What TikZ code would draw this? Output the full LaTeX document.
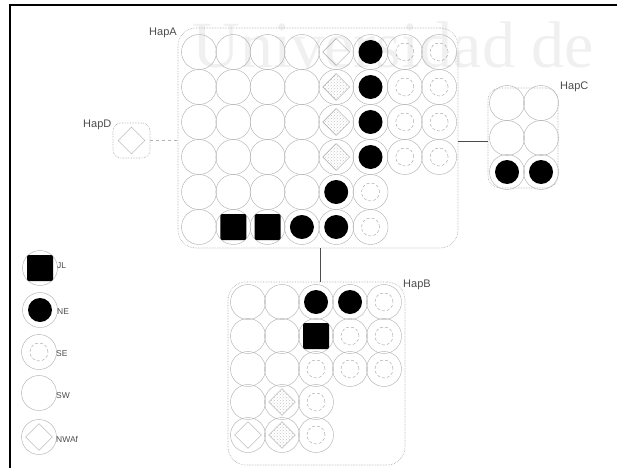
\documentclass[tikz,border=0pt]{standalone}
\usepackage{fontspec}
\setmainfont{Liberation Sans}
\newfontfamily\wmfont{Liberation Serif}
\usetikzlibrary{shapes.geometric,patterns}
\tikzset{
  outer/.style={circle, draw=gray!60, line width=0.45pt, minimum size=35pt, inner sep=0pt},
  blk/.style={circle, fill=black, minimum size=24pt, inner sep=0pt},
  sedot/.style={circle, draw=gray!70, densely dashed, line width=0.45pt, minimum size=18pt, inner sep=0pt},
  dia/.style={diamond, draw=gray!70, line width=0.45pt, minimum size=27pt, inner sep=0pt},
  diah/.style={dia, pattern=crosshatch dots, pattern color=gray!45},
  sqr/.style={rectangle, fill=black, minimum size=26pt, inner sep=0pt, rounded corners=2pt},
  hapbox/.style={rectangle, draw=gray!70, densely dotted, line width=0.6pt, inner sep=0pt, rounded corners=18pt},
  haplabel/.style={font=\fontsize{11}{11}\selectfont, text=black!70, inner sep=0pt},
  leglabel/.style={font=\fontsize{8.5}{8.5}\selectfont, text=black!70, inner sep=0pt, anchor=west},
  conn/.style={draw=gray!60!black, line width=0.5pt},
  connd/.style={draw=gray!60, line width=0.5pt, dashed}
}
\newcommand\hsymW[1]{}
\newcommand\hsymB[1]{\node[blk] (#1-s) at (#1) {};}
\newcommand\hsymS[1]{\node[sedot] (#1-s) at (#1) {};}
\newcommand\hsymD[1]{\node[dia] (#1-s) at (#1) {};}
\newcommand\hsymH[1]{\node[diah] (#1-s) at (#1) {};}
\newcommand\hsymQ[1]{\node[sqr] (#1-s) at (#1) {};}
\newcommand\mycell[3]{%
  \node[outer] (#1) at (#2) {};
  \csname hsym#3\endcsname{#1}}
\begin{document}
\begin{tikzpicture}[x=1pt,y=-1pt]
\useasboundingbox (0,0) rectangle (617,468);
% watermark
\node[anchor=base east, inner sep=0pt, text=gray!12, font=\wmfont\fontsize{66}{66}\selectfont] (wm) at (594,68) {Universidad de};
% frame
\draw[line width=1.3pt] (10,468) -- (10,5) -- (617,5);
% boxes
\node[hapbox, minimum width=280pt, minimum height=220pt] (hapA) at (318,138) {};
\node[hapbox, minimum width=177pt, minimum height=183pt] (hapB) at (316.5,373.5) {};
\node[hapbox, minimum width=70pt, minimum height=100pt, rounded corners=12pt] (hapC) at (523,138) {};
\node[hapbox, minimum width=37pt, minimum height=35pt, rounded corners=8pt] (hapD) at (131.5,140.5) {};
% labels
\node[haplabel, anchor=west] (lA) at (149,33) {HapA};
\node[haplabel, anchor=west] (lB) at (403,285) {HapB};
\node[haplabel, anchor=west] (lC) at (560,87) {HapC};
\node[haplabel, anchor=west] (lD) at (83,125) {HapD};
% connectors
\draw[connd] (hapD.east) -- (hapD.east -| hapA.west);
\draw[conn] ([yshift=-3pt]hapA.east) -- ([yshift=-3pt]hapA.east -| hapC.west);
\draw[conn] ([xshift=2pt]hapA.south) -- ([xshift=2pt]hapA.south |- hapB.north);
% HapA cells
\foreach \t [count=\c] in {W,W,W,W,D,B,S,S} {\mycell{a1\c}{{199+34.3*(\c-1)},52}{\t}}
\foreach \t [count=\c] in {W,W,W,W,H,B,S,S} {\mycell{a2\c}{{199+34.3*(\c-1)},87}{\t}}
\foreach \t [count=\c] in {W,W,W,W,H,B,S,S} {\mycell{a3\c}{{199+34.3*(\c-1)},122}{\t}}
\foreach \t [count=\c] in {W,W,W,W,H,B,S,S} {\mycell{a4\c}{{199+34.3*(\c-1)},157}{\t}}
\foreach \t [count=\c] in {W,W,W,W,B,S} {\mycell{a5\c}{{199+34.3*(\c-1)},192}{\t}}
\foreach \t [count=\c] in {W,Q,Q,B,B,S} {\mycell{a6\c}{{199+34.3*(\c-1)},227}{\t}}
% HapB cells
\foreach \t [count=\c] in {W,W,B,B,S} {\mycell{b1\c}{{248+34*(\c-1)},302}{\t}}
\foreach \t [count=\c] in {W,W,Q,S,S} {\mycell{b2\c}{{248+34*(\c-1)},336}{\t}}
\foreach \t [count=\c] in {W,W,S,S,S} {\mycell{b3\c}{{248+34*(\c-1)},369}{\t}}
\foreach \t [count=\c] in {W,H,S} {\mycell{b4\c}{{248+34*(\c-1)},402}{\t}}
\foreach \t [count=\c] in {D,H,S} {\mycell{b5\c}{{248+34*(\c-1)},435}{\t}}
% HapC cells
\foreach \t [count=\c] in {W,W} {\mycell{c1\c}{{507+34*(\c-1)},103}{\t}}
\foreach \t [count=\c] in {W,W} {\mycell{c2\c}{{507+34*(\c-1)},138}{\t}}
\foreach \t [count=\c] in {B,B} {\mycell{c3\c}{{507+34*(\c-1)},172}{\t}}
% HapD
\node[dia] (d1) at (hapD) {};
% legend
\mycell{gQ}{40,268}{Q}
\mycell{gB}{40,310}{B}
\mycell{gS}{39,352}{S}
\mycell{gW}{39,393}{W}
\mycell{gD}{39,437}{D}
\node[leglabel] (tQ) at (57,266) {JL};
\node[leglabel] (tB) at (57,312) {NE};
\node[leglabel] (tS) at (56,354) {SE};
\node[leglabel] (tW) at (56,396) {SW};
\node[leglabel] (tD) at (56,439) {NWAf};
\end{tikzpicture}
\end{document}
